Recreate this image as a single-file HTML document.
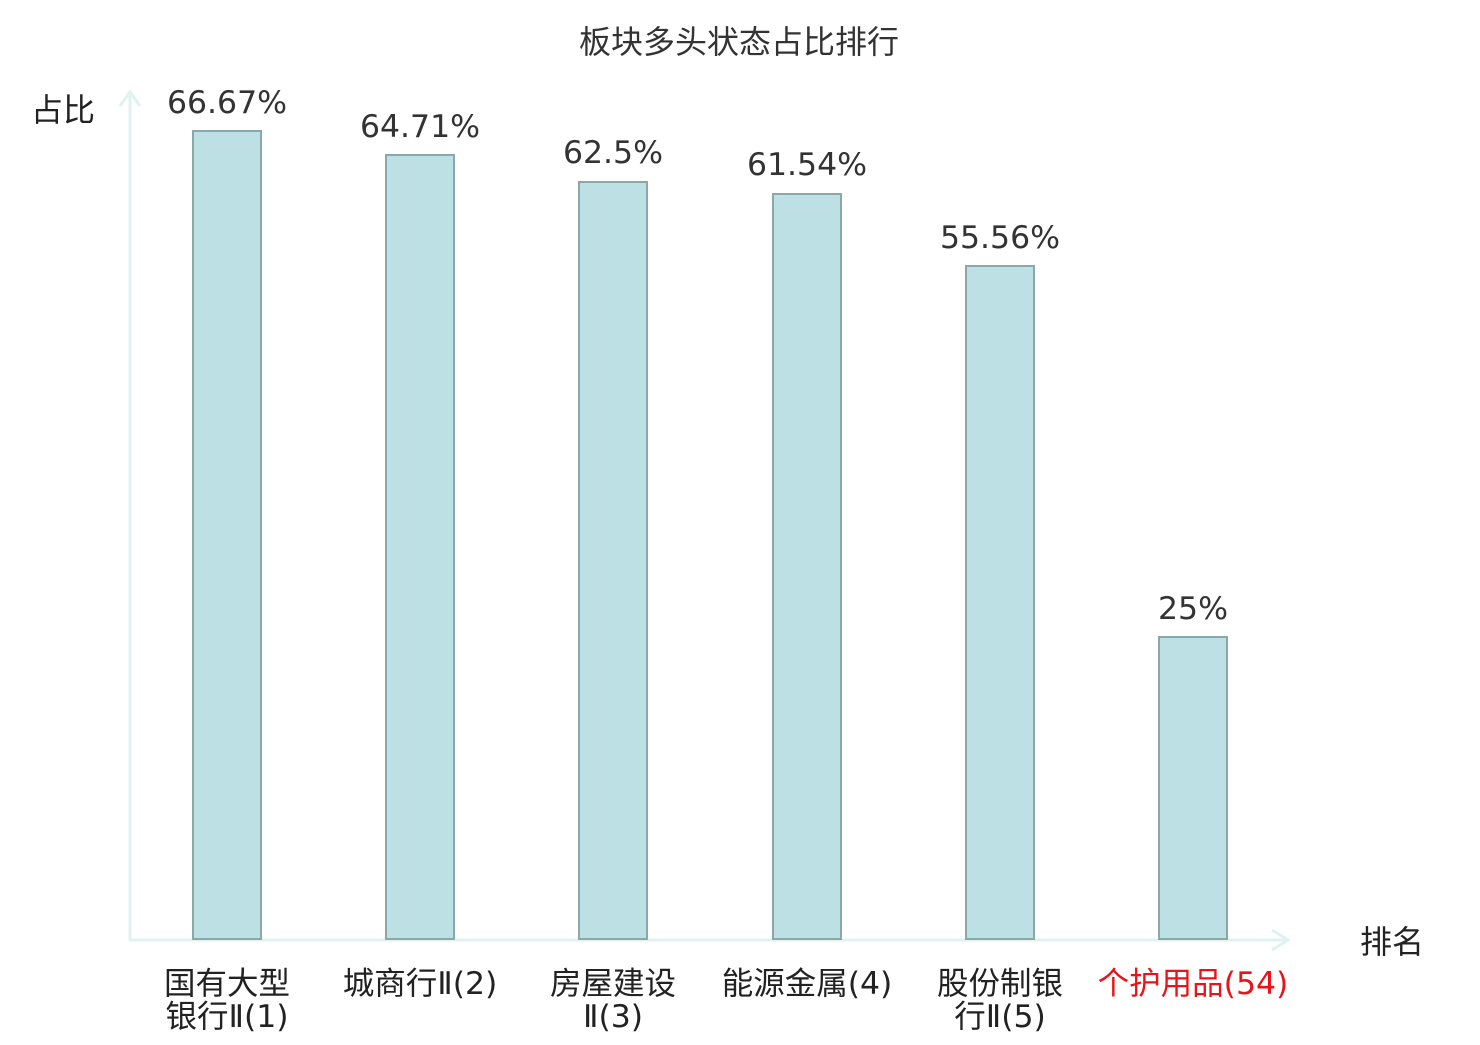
<!DOCTYPE html>
<html><head><meta charset="utf-8"><style>
body{margin:0;background:#fff}
text{font-family:"DejaVu Sans","Noto Sans CJK SC",sans-serif}
</style></head><body>
<svg width="1480" height="1040" xmlns="http://www.w3.org/2000/svg">
<rect width="1480" height="1040" fill="#fff"/>
<text x="739" y="53" font-size="32" text-anchor="middle" fill="#333" font-family="Noto Sans CJK SC, sans-serif">板块多头状态占比排行</text>
<text x="63" y="121" font-size="32" text-anchor="middle" fill="#222" font-family="Noto Sans CJK SC, sans-serif">占比</text>
<text x="1392" y="953" font-size="32" text-anchor="middle" fill="#222" font-family="Noto Sans CJK SC, sans-serif">排名</text>
<g stroke="#dff2ef" stroke-width="3" fill="none">
<line x1="130" y1="92" x2="130" y2="941"/>
<polyline points="120,106 130,92 140,106"/>
<line x1="129" y1="940" x2="1288" y2="940"/>
<polyline points="1272,930 1288,940 1272,950"/>
</g>
<g fill="#bce0e3" stroke="#8aa8a8" stroke-width="2">
<rect x="193" y="131" width="68" height="808"/>
<rect x="386" y="155" width="68" height="784"/>
<rect x="579" y="182" width="68" height="757"/>
<rect x="773" y="194" width="68" height="745"/>
<rect x="966" y="266" width="68" height="673"/>
<rect x="1159" y="637" width="68" height="302"/>
</g>
<g font-size="31.5" fill="#333" text-anchor="middle">
<text x="227" y="113">66.67%</text>
<text x="420" y="137">64.71%</text>
<text x="613" y="163">62.5%</text>
<text x="807" y="175">61.54%</text>
<text x="1000" y="248">55.56%</text>
<text x="1193" y="619">25%</text>
</g>
<g font-size="31.5" fill="#222" text-anchor="middle" font-family="Noto Sans CJK SC, sans-serif">
<text x="227" y="994">国有大型</text>
<text x="227" y="1027">银行Ⅱ(1)</text>
<text x="420" y="994">城商行Ⅱ(2)</text>
<text x="613" y="994">房屋建设</text>
<text x="613" y="1027">Ⅱ(3)</text>
<text x="807" y="994">能源金属(4)</text>
<text x="1000" y="994">股份制银</text>
<text x="1000" y="1027">行Ⅱ(5)</text>
<text x="1193" y="994" fill="#e8141a">个护用品(54)</text>
</g>
</svg>
</body></html>
